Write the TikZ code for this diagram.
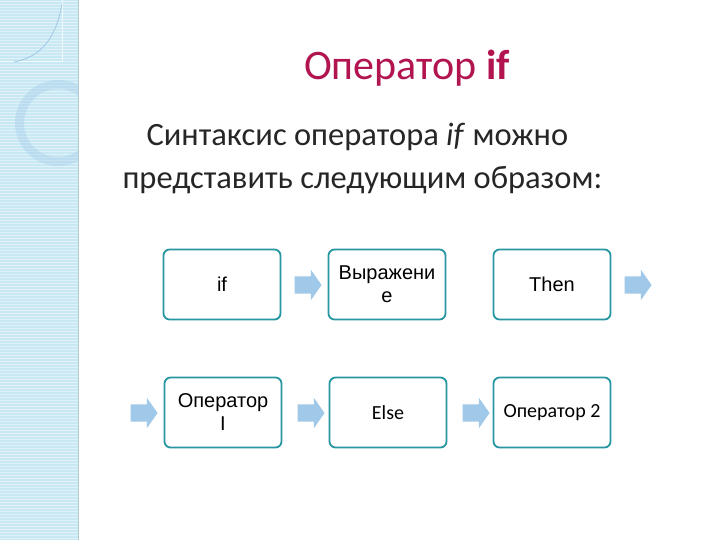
\documentclass[tikz,border=0pt]{standalone}
\usepackage{fontspec}
\setmainfont{Carlito}
\newfontfamily\arialfont{Liberation Sans}
\usetikzlibrary{shapes.arrows}

\definecolor{boxteal}{RGB}{38,150,160}
\definecolor{arrowblue}{RGB}{160,200,232}
\definecolor{titlered}{RGB}{178,20,80}
\definecolor{stripblue}{RGB}{200,232,243}

\begin{document}
\begin{tikzpicture}[x=1pt, y=-1pt,
    box/.style={rectangle, rounded corners=6pt, draw=boxteal, line width=1.8pt,
      minimum width=117pt, minimum height=70pt, align=center, font=\arialfont\fontsize{20}{23}\selectfont},
    boxc/.style={box, font=\fontsize{20}{23}\selectfont},
    blockarrow/.style={single arrow, fill=arrowblue, draw=none, inner xsep=0pt, inner ysep=8.5pt,
      minimum height=27pt, single arrow head extend=6.5pt, single arrow tip angle=110}]
    \useasboundingbox (0,0) rectangle (720,540);
    \fill[white] (0,0) rectangle (720,540);

    % left strip
    \fill[stripblue] (0,0) rectangle (78,540);
    \foreach \y in {1.5,4.5,...,540} {
      \draw[white, opacity=0.45, line width=0.8pt] (0,\y) -- (78,\y);
    }
    \draw[white, opacity=0.7, line width=1pt] (0,62) -- (62,62) -- (62,0);
    \draw[arrowblue, line width=0.8pt] (62,4) .. controls (55,45) and (35,58) .. (14,62);
    \begin{scope}
      \clip (0,0) rectangle (78,540);
      \fill[arrowblue, opacity=0.35, even odd rule] (58,123) circle (43) (58,123) circle (34);
    \end{scope}
    \draw[stripblue!70!gray, line width=0.6pt] (78,0) -- (78,540);

    % heading
    \node (title) at (407,68) [text=titlered, font=\fontsize{42}{46}\selectfont] {Оператор \textbf{if}};
    \node (sub1) at (143,146) [anchor=base west, text=black!85, font=\fontsize{32.5}{38}\selectfont] {Синтаксис оператора \textit{if} можно};
    \node (sub2) at (119,189) [anchor=base west, text=black!85, font=\fontsize{32.5}{38}\selectfont] {представить следующим образом:};

    % first row
    \node (kwif) at (222,284.5) [box] {if};
    \node (expr) at (387,284.5) [box] {Выражени\\е};
    \node (kwthen) at (552,284.5) [box] {Then};
    \node (a1) at (305,285) [blockarrow] {};
    \node (a2) at (635,285) [blockarrow] {};

    % second row
    \node (op1) at (223,412.5) [box] {Оператор\\I};
    \node (kwelse) at (388,412.5) [boxc] {Else};
    \node (op2) at (552,412.5) [boxc] {Оператор 2};
    \node (a3) at (141,413) [blockarrow] {};
    \node (a4) at (308,413) [blockarrow] {};
    \node (a5) at (473,413) [blockarrow] {};
\end{tikzpicture}
\end{document}
